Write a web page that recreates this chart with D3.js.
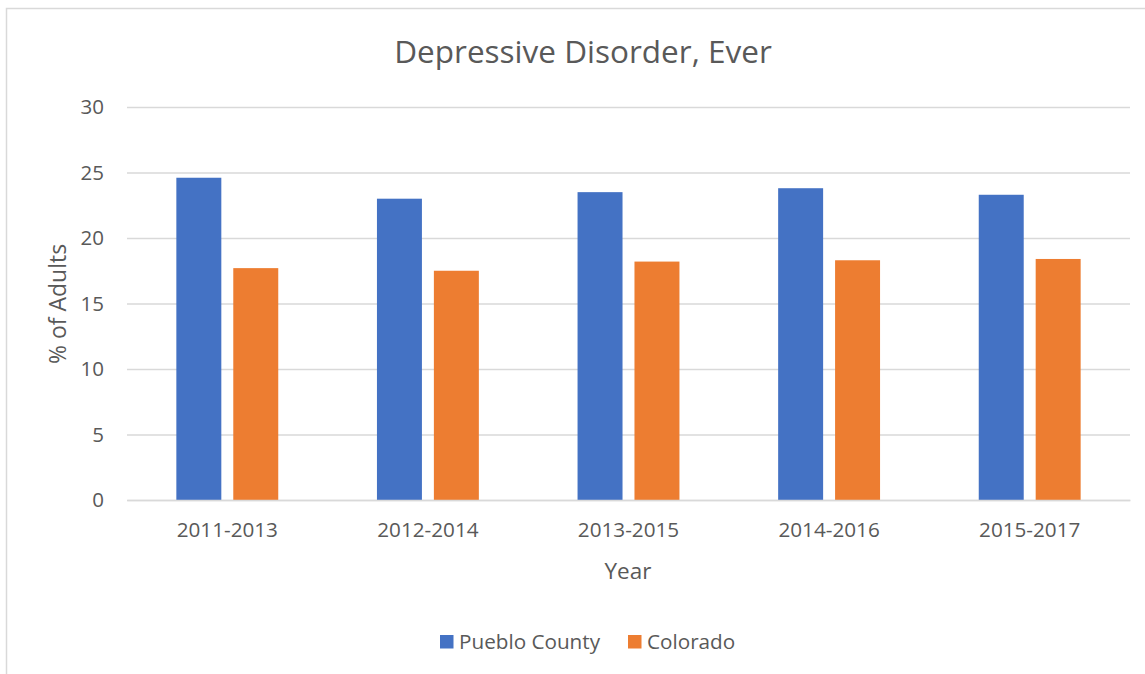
<!DOCTYPE html>
<html>
<head>
<meta charset="utf-8">
<script src="https://cdn.jsdelivr.net/npm/d3@7"></script>
<style>
  html, body { margin: 0; padding: 0; background: #fff; }
  svg { display: block; font-family: "Open Sans", sans-serif; }
</style>
</head>
<body>
<svg id="chart" width="1145" height="674"></svg>
<script>
const categories = ["2011-2013", "2012-2014", "2013-2015", "2014-2016", "2015-2017"];
const seriesNames = ["Pueblo County", "Colorado"];
const puebloValues = [24.6, 23.0, 23.5, 23.8, 23.3];
const coloradoValues = [17.7, 17.5, 18.2, 18.3, 18.4];
const yTicks = [0, 5, 10, 15, 20, 25, 30];
const colors = ["#4472C4", "#ED7D31"];

const W = 1145, H = 674;
const plot = { left: 127, right: 1130, top: 107, bottom: 500 };
const textColor = "#595959";
const svg = d3.select("#chart");

// chart border
svg.append("rect").attr("x", 6.5).attr("y", 8.5).attr("width", W + 20).attr("height", H + 20)
  .attr("fill", "#fff").attr("stroke", "#d9d9d9").attr("stroke-width", 1.5);

const y = d3.scaleLinear().domain([0, 30]).range([plot.bottom, plot.top]);
const x0 = d3.scaleBand().domain(categories).range([plot.left, plot.right])
  .paddingInner(0.492).paddingOuter(0.246);
const x1 = d3.scaleBand().domain(seriesNames).range([0, x0.bandwidth()]).paddingInner(0.21);

// gridlines
const yAxis = d3.axisLeft(y).tickValues(yTicks).tickSize(-(plot.right - plot.left)).tickPadding(23);
const gy = svg.append("g").attr("transform", `translate(${plot.left},0)`).call(yAxis);
gy.select(".domain").remove();
gy.selectAll(".tick line").attr("stroke", "#d9d9d9").attr("stroke-width", 1.5);
gy.selectAll(".tick text").attr("fill", textColor).attr("font-size", "20.5px")
  .attr("font-family", "Open Sans, sans-serif");

// bars
const data = categories.map((c, i) => ({ cat: c, vals: [puebloValues[i], coloradoValues[i]] }));
const groups = svg.append("g").selectAll("g").data(data).join("g")
  .attr("transform", d => `translate(${x0(d.cat)},0)`);
groups.selectAll("rect").data(d => d.vals.map((v, j) => ({ name: seriesNames[j], v, j })))
  .join("rect")
  .attr("x", d => x1(d.name))
  .attr("width", x1.bandwidth())
  .attr("y", d => y(d.v))
  .attr("height", d => y(0) - y(d.v))
  .attr("fill", d => colors[d.j]);

// x axis
const xAxis = d3.axisBottom(x0).tickSize(0).tickPadding(22);
const gx = svg.append("g").attr("transform", `translate(0,${plot.bottom})`).call(xAxis);
gx.select(".domain").attr("stroke", "#d9d9d9").attr("stroke-width", 1.5);
gx.selectAll(".tick text").attr("fill", textColor).attr("font-size", "20.7px")
  .attr("font-family", "Open Sans, sans-serif");

// title
svg.append("text").attr("x", 583).attr("y", 63).attr("text-anchor", "middle")
  .attr("fill", textColor).attr("font-size", "31.5px").text("Depressive Disorder, Ever");

// axis titles
svg.append("text").attr("x", 628).attr("y", 579).attr("text-anchor", "middle")
  .attr("fill", textColor).attr("font-size", "22.5px").text("Year");
svg.append("text").attr("transform", `translate(66,304) rotate(-90)`).attr("text-anchor", "middle")
  .attr("fill", textColor).attr("font-size", "23px").text("% of Adults");

// legend
const legendItems = [{ name: seriesNames[0], x: 440 }, { name: seriesNames[1], x: 628 }];
const lg = svg.append("g").selectAll("g").data(legendItems).join("g")
  .attr("transform", d => `translate(${d.x},635)`);
lg.append("rect").attr("width", 13.5).attr("height", 13.5).attr("fill", (d, i) => colors[i]);
lg.append("text").attr("x", 19).attr("y", 13.5).attr("fill", textColor).attr("font-size", "20.7px")
  .text(d => d.name);
</script>
</body>
</html>
